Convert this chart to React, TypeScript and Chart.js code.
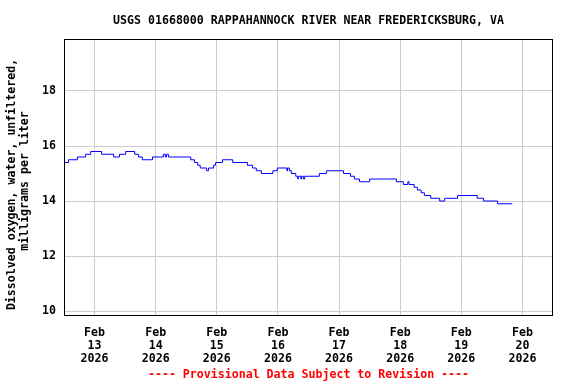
import React, { useEffect, useRef } from "react";
import { Chart, registerables } from "chart.js";

Chart.register(...registerables);

// Hours since Feb 13 2026 00:00
const hours = [
  -12, -10.25, -6.75, -3.5, -1.5, 2.75, 7.5, 9.75, 12.25, 15.75, 17.25, 18.75, 22.75, 27, 27.75, 28.25, 29,
  37.75, 39.25, 40.5, 41.5, 44, 44.75, 46.75, 47.5, 50.25, 54.25, 60, 62, 63.5, 65.5, 70, 71.75, 75.5, 75.75,
  76.5, 77.25, 79, 79.75, 80, 81, 81.25, 82, 82.5, 88.25, 91, 97.75, 100.5, 102, 104, 108, 118.5, 121.25,
  123, 123.5, 125.5, 126.75, 128.25, 129.5, 132, 135.5, 137.5, 142.5, 150.25, 152.75, 158.25, 164,
];
const oxygen = [
  15.4, 15.5, 15.6, 15.7, 15.8, 15.7, 15.6, 15.7, 15.8, 15.7, 15.6, 15.5, 15.6, 15.7, 15.6, 15.7, 15.6,
  15.5, 15.4, 15.3, 15.2, 15.1, 15.2, 15.3, 15.4, 15.5, 15.4, 15.3, 15.2, 15.1, 15.0, 15.1, 15.2, 15.1, 15.2,
  15.1, 15.0, 14.9, 14.8, 14.9, 14.8, 14.9, 14.8, 14.9, 15.0, 15.1, 15.0, 14.9, 14.8, 14.7, 14.8, 14.7, 14.6,
  14.7, 14.6, 14.5, 14.4, 14.3, 14.2, 14.1, 14.0, 14.1, 14.2, 14.1, 14.0, 13.9, 13.9,
];

const xTickHours = [0, 24, 48, 72, 96, 120, 144, 168];
const xTickLabels = [
  ["Feb", "13", "2026"],
  ["Feb", "14", "2026"],
  ["Feb", "15", "2026"],
  ["Feb", "16", "2026"],
  ["Feb", "17", "2026"],
  ["Feb", "18", "2026"],
  ["Feb", "19", "2026"],
  ["Feb", "20", "2026"],
];
const yTickValues = [10, 12, 14, 16, 18];

const titleText = "USGS 01668000 RAPPAHANNOCK RIVER NEAR FREDERICKSBURG, VA";
const subtitleText = "---- Provisional Data Subject to Revision ----";
const yTitle = ["Dissolved oxygen, water, unfiltered,  ", "milligrams per liter "];

const FONT = "'DejaVu Sans Mono', 'Liberation Mono', monospace";

const frame = {
  id: "frame",
  afterDraw(chart: any) {
    const { ctx, chartArea } = chart;
    ctx.save();
    ctx.strokeStyle = "#000";
    ctx.lineWidth = 1;
    ctx.strokeRect(chartArea.left + 0.5, chartArea.top + 0.5, chartArea.right - chartArea.left - 1, chartArea.bottom - chartArea.top - 1);
    ctx.restore();
  },
};

export default function App() {
  const ref = useRef<HTMLCanvasElement>(null);
  useEffect(() => {
    if (!ref.current) return;
    const font = { family: FONT, size: 11.6, weight: "bold" as const, lineHeight: 1.12 };
    const chart = new Chart(ref.current, {
      type: "line",
      data: {
        datasets: [
          {
            data: hours.map((h, i) => ({ x: h, y: oxygen[i] })),
            borderColor: "#0000ff",
            borderWidth: 1,
            pointRadius: 0,
            stepped: "before",
            fill: false,
          },
        ],
      },
      plugins: [frame],
      options: {
        animation: false,
        responsive: false,
        layout: { padding: { left: 0, right: 23, top: 0, bottom: 0 } },
        plugins: {
          legend: { display: false },
          tooltip: { enabled: false },
          title: {
            display: true,
            fullSize: false,
            text: titleText,
            color: "#000",
            font,
            padding: { top: 14, bottom: 12 },
          },
          subtitle: {
            display: true,
            fullSize: false,
            position: "bottom",
            text: subtitleText,
            color: "#ff0000",
            font,
            padding: { top: 2, bottom: 2.5 },
          },
        },
        scales: {
          x: {
            type: "linear",
            min: -12,
            max: 180,
            afterBuildTicks: (s: any) => {
              s.ticks = xTickHours.map((v) => ({ value: v }));
            },
            afterFit: (s: any) => {
              s.height = 50.5;
            },
            ticks: {
              autoSkip: false,
              maxRotation: 0,
              color: "#000",
              font,
              padding: 10,
              callback: (v: any) => {
                const i = xTickHours.indexOf(Number(v));
                return i >= 0 ? xTickLabels[i] : "";
              },
            },
            grid: { color: "#cccccc", drawTicks: false },
            border: { display: false },
          },
          y: {
            type: "linear",
            min: 9.82,
            max: 19.89,
            afterBuildTicks: (s: any) => {
              s.ticks = yTickValues.map((v) => ({ value: v }));
            },
            afterFit: (s: any) => {
              s.width = 64;
            },
            ticks: {
              color: "#000",
              font,
              padding: 8,
              callback: (v: any) => String(v),
            },
            grid: { color: "#cccccc", drawTicks: false },
            border: { display: false },
            title: {
              display: true,
              text: yTitle,
              color: "#000",
              font,
              padding: { top: 5.5, bottom: 0 },
            },
          },
        },
      },
    });
    return () => chart.destroy();
  }, []);
  return (
    <div style={{ position: "absolute", left: 0, top: 0, width: 576, height: 384, background: "#fff" }}>
      <canvas ref={ref} width={576} height={384} />
    </div>
  );
}
